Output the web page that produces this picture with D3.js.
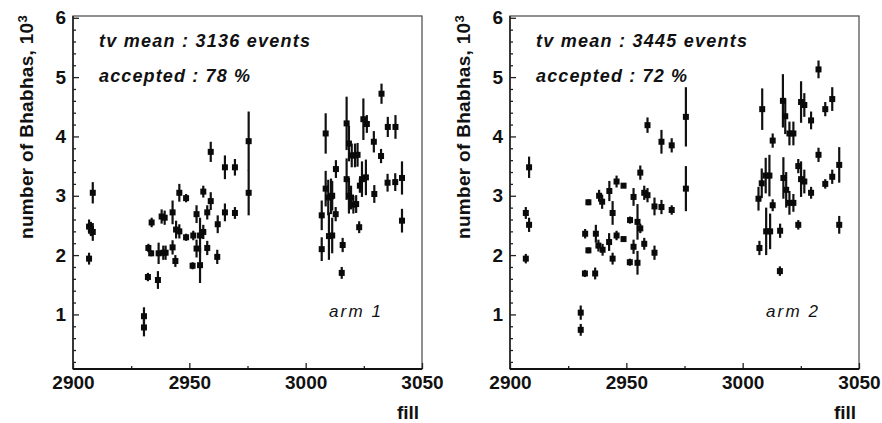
<!DOCTYPE html>
<meta charset='utf-8'>
<style>
  body { margin: 0; background: #fff; }
  svg text { font-family: 'Liberation Sans', Arial, Helvetica, sans-serif; fill: #111; }
  .tick text { font-size: 19px; font-weight: bold; fill: #111; }
  .tick line { stroke: #222; stroke-width: 1.3; }
  .axis-title { font-size: 19px; font-weight: bold; }
  .note { font-size: 18px; font-weight: bold; font-style: italic; }
  .arm { font-size: 17px; font-style: italic; }
  .err { stroke: #111; stroke-width: 2.2; }
  .pt { fill: #0a0a0a; }
</style>

<svg width='882' height='423'></svg>
<script src="https://d3js.org/d3.v7.min.js"></script>
<script>
  // arm 1 : fill number, number of Bhabhas (10^3), half error
  var arm1Fill = [2906.9, 2906.9, 2907.7, 2908.5, 2908.5,
    2930.5, 2930.5, 2932.2, 2932.4, 2933.6, 2933.8, 2936.5, 2936.8, 2938.1, 2938.8, 2939.4, 2939.8,
    2942.8, 2942.8, 2944.0, 2944.3, 2945.7, 2945.7, 2948.6, 2948.6, 2951.4, 2951.7, 2953.1, 2953.1,
    2954.6, 2954.6, 2956.0, 2956.0, 2957.7, 2957.7, 2959.2, 2959.2, 2962.2, 2962.0, 2965.3, 2965.3,
    2969.6, 2969.6, 2975.5, 2975.5,
    3006.9, 3006.9, 3008.6, 3008.6, 3009.7, 3010.9, 3011.4, 3010.0, 3011.4, 3013.0, 3012.9, 3015.9,
    3015.5, 3017.6, 3018.6, 3019.8, 3021.2, 3022.3, 3017.6, 3018.6, 3019.5, 3020.5, 3021.7, 3023.3,
    3023.0, 3024.8, 3026.3, 3029.3, 3032.6, 3032.4, 3035.3, 3038.6, 3024.2, 3025.9, 3029.5, 3035.2,
    3038.5, 3041.4, 3041.4];
  var arm1Value = [1.94, 2.48, 2.44, 2.39, 3.05,
    0.97, 0.78, 1.63, 2.12, 2.03, 2.55, 1.58, 2.03, 2.65, 2.04, 2.63, 2.04,
    2.72, 2.13, 1.90, 2.43, 2.40, 3.05, 2.96, 2.30, 1.82, 2.33, 2.69, 2.11,
    1.83, 2.33, 2.39, 3.07, 2.72, 2.12, 2.91, 3.74, 2.52, 1.97, 3.48, 2.72,
    3.48, 2.71, 3.92, 3.05,
    2.67, 2.10, 4.05, 3.12, 2.97, 2.99, 3.00, 2.32, 2.33, 3.45, 2.69, 2.17,
    1.70, 4.22, 3.88, 3.68, 3.68, 3.69, 3.28, 3.00, 2.97, 2.85, 2.86, 3.17,
    2.47, 4.29, 4.21, 3.91, 4.72, 3.67, 4.16, 4.16, 3.28, 3.31, 3.03, 3.22,
    3.23, 3.30, 2.58];
  var arm1Err = [0.10, 0.12, 0.12, 0.15, 0.18,
    0.15, 0.15, 0.07, 0.07, 0.05, 0.08, 0.15, 0.18, 0.12, 0.12, 0.12, 0.12,
    0.20, 0.12, 0.10, 0.15, 0.12, 0.15, 0.07, 0.06, 0.06, 0.08, 0.15, 0.15,
    0.30, 0.30, 0.12, 0.10, 0.12, 0.12, 0.15, 0.17, 0.15, 0.12, 0.20, 0.15,
    0.14, 0.10, 0.50, 0.38,
    0.25, 0.20, 0.34, 0.30, 0.30, 0.30, 0.25, 0.40, 0.30, 0.15, 0.12, 0.12,
    0.10, 0.45, 0.30, 0.20, 0.20, 0.20, 0.35, 0.30, 0.20, 0.15, 0.15, 0.12,
    0.10, 0.35, 0.15, 0.18, 0.17, 0.12, 0.17, 0.20, 0.30, 0.30, 0.15, 0.15,
    0.15, 0.28, 0.20];

  // arm 2
  var arm2Fill = [2906.8, 2908.2, 2906.8, 2908.2,
    2930.4, 2930.4, 2932.2, 2932.3, 2933.7, 2933.7, 2936.6, 2936.9, 2938.0, 2938.3, 2939.6, 2939.8,
    2942.7, 2942.6, 2944.1, 2944.1, 2945.8, 2945.8, 2948.8, 2948.8, 2951.6, 2951.5, 2953.1, 2953.1,
    2954.8, 2954.8, 2956.0, 2956.0, 2957.7, 2957.7, 2959.1, 2959.1, 2962.1, 2962.1, 2965.1, 2965.1,
    2969.5, 2969.5, 2975.6, 2975.6,
    3006.8, 3007.2, 3008.4, 3008.2, 3009.9, 3011.5, 3010.1, 3011.8, 3012.9, 3012.9, 3016.1, 3016.0,
    3017.3, 3018.3, 3020.1, 3021.8, 3017.5, 3018.7, 3020.1, 3021.8, 3023.9, 3023.9, 3025.1, 3026.5,
    3029.4, 3032.6, 3032.6, 3035.5, 3038.5, 3025.1, 3026.5, 3029.4, 3035.5, 3038.5, 3041.5, 3041.5];
  var arm2Value = [2.71, 2.51, 1.94, 3.48,
    1.03, 0.74, 1.69, 2.36, 2.08, 2.89, 1.69, 2.36, 2.16, 3.00, 2.90, 2.09,
    3.08, 2.22, 2.71, 1.94, 3.24, 2.33, 3.17, 2.27, 2.59, 1.88, 2.98, 2.14,
    2.56, 1.87, 3.39, 2.45, 3.05, 2.19, 3.01, 4.19, 2.82, 2.04, 3.91, 2.81,
    3.85, 2.76, 4.33, 3.12,
    2.95, 2.12, 4.46, 3.21, 3.34, 3.34, 2.40, 2.40, 3.93, 2.84, 2.41, 1.73,
    4.60, 4.34, 4.05, 4.05, 3.30, 3.10, 2.88, 2.88, 3.50, 2.51, 4.58, 4.53,
    4.27, 5.13, 3.69, 4.46, 4.63, 3.28, 3.24, 3.05, 3.20, 3.32, 3.52, 2.51];
  var arm2Err = [0.10, 0.12, 0.08, 0.18,
    0.12, 0.10, 0.06, 0.08, 0.05, 0.05, 0.10, 0.15, 0.10, 0.10, 0.12, 0.10,
    0.17, 0.15, 0.20, 0.10, 0.10, 0.08, 0.04, 0.04, 0.06, 0.06, 0.15, 0.12,
    0.30, 0.20, 0.12, 0.08, 0.12, 0.10, 0.12, 0.13, 0.15, 0.12, 0.20, 0.12,
    0.12, 0.08, 0.50, 0.38,
    0.20, 0.12, 0.35, 0.25, 0.30, 0.35, 0.40, 0.30, 0.12, 0.10, 0.12, 0.08,
    0.45, 0.30, 0.20, 0.20, 0.35, 0.30, 0.20, 0.15, 0.12, 0.08, 0.35, 0.20,
    0.15, 0.15, 0.12, 0.12, 0.20, 0.30, 0.20, 0.10, 0.08, 0.12, 0.30, 0.15];

  var xMajor = [2900, 2950, 3000, 3050],
    xMinor = [2925, 2975, 3025],
    yMajor = [1, 2, 3, 4, 5, 6],
    yMinor = d3.range(1, 30).map(function(i) { return i / 5; })
      .filter(function(v) { return Math.abs(v - Math.round(v)) > 0.01; });

  var panels = [
    { left: 73, fill: arm1Fill, value: arm1Value, err: arm1Err,
      mean: 'tv mean : 3136 events', acc: 'accepted : 78 %', arm: 'arm 1' },
    { left: 510, fill: arm2Fill, value: arm2Value, err: arm2Err,
      mean: 'tv mean : 3445 events', acc: 'accepted : 72 %', arm: 'arm 2' }
  ];

  var svg = d3.select('svg'),
    plotW = 349,
    plotTop = 16,
    plotBottom = 369;

  panels.forEach(function(p) {
    var x = d3.scaleLinear().domain([2900, 3050]).range([p.left, p.left + plotW]);
    var y = d3.scaleLinear().domain([0.08, 6.03]).range([plotBottom, plotTop]);
    var g = svg.append('g');

    // frame
    g.append('rect')
      .attr('x', p.left).attr('y', plotTop)
      .attr('width', plotW).attr('height', plotBottom - plotTop)
      .attr('fill', 'none').attr('stroke', '#555').attr('stroke-width', 1.3);
    g.append('line')
      .attr('x1', p.left).attr('x2', p.left)
      .attr('y1', plotTop).attr('y2', plotBottom)
      .attr('stroke', '#222').attr('stroke-width', 1.6);

    // axes
    g.append('g')
      .attr('transform', 'translate(0,' + plotBottom + ')')
      .call(d3.axisBottom(x).tickValues(xMajor).tickSize(-6).tickSizeOuter(0).tickPadding(7).tickFormat(d3.format('d')))
      .call(function(a) { a.select('.domain').remove(); a.selectAll('text').attr('font-size', null).attr('font-family', null); });
    g.append('g')
      .attr('transform', 'translate(0,' + plotBottom + ')')
      .call(d3.axisBottom(x).tickValues(xMinor).tickSize(-3).tickSizeOuter(0).tickFormat(''))
      .call(function(a) { a.select('.domain').remove(); });
    g.append('g')
      .attr('transform', 'translate(' + p.left + ',0)')
      .call(d3.axisLeft(y).tickValues(yMajor).tickSize(-6).tickSizeOuter(0).tickPadding(7).tickFormat(d3.format('d')))
      .call(function(a) { a.select('.domain').remove(); a.selectAll('text').attr('font-size', null).attr('font-family', null); });
    g.append('g')
      .attr('transform', 'translate(' + p.left + ',0)')
      .call(d3.axisLeft(y).tickValues(yMinor).tickSize(-3).tickSizeOuter(0).tickFormat(''))
      .call(function(a) { a.select('.domain').remove(); });

    g.append('line')
      .attr('x1', p.left).attr('x2', p.left + plotW)
      .attr('y1', plotBottom).attr('y2', plotBottom)
      .attr('stroke', '#111').attr('stroke-width', 2);

    // points with error bars
    var idx = d3.range(p.fill.length);
    g.selectAll('.err').data(idx).enter().append('line')
      .attr('class', 'err')
      .attr('x1', function(i) { return x(p.fill[i]); })
      .attr('x2', function(i) { return x(p.fill[i]); })
      .attr('y1', function(i) { return y(p.value[i] - p.err[i]); })
      .attr('y2', function(i) { return y(p.value[i] + p.err[i]); });
    g.selectAll('.pt').data(idx).enter().append('rect')
      .attr('class', 'pt')
      .attr('x', function(i) { return x(p.fill[i]) - 3; })
      .attr('y', function(i) { return y(p.value[i]) - 3; })
      .attr('width', 6).attr('height', 6);

    // texts
    g.append('text').attr('class', 'note')
      .attr('x', p.left + 26).attr('y', 46.5)
      .attr('textLength', 211).attr('lengthAdjust', 'spacing')
      .text(p.mean);
    g.append('text').attr('class', 'note')
      .attr('x', p.left + 26).attr('y', 81.7)
      .attr('textLength', 151).attr('lengthAdjust', 'spacing')
      .text(p.acc);
    g.append('text').attr('class', 'arm')
      .attr('x', p.left + 256).attr('y', 316.5)
      .attr('textLength', 52).attr('lengthAdjust', 'spacing')
      .text(p.arm);

    g.append('text').attr('class', 'axis-title')
      .attr('x', p.left + plotW - 14).attr('y', 419)
      .attr('text-anchor', 'middle')
      .text('fill');

    var yt = g.append('text').attr('class', 'axis-title')
      .attr('transform', 'translate(' + (p.left - 40) + ',127) rotate(-90)')
      .attr('text-anchor', 'middle')
      .attr('letter-spacing', 0.3);
    yt.append('tspan').text('number of Bhabhas, 10');
    yt.append('tspan').attr('dy', '-0.45em').attr('font-size', '13px').text('3');
  });
</script>
